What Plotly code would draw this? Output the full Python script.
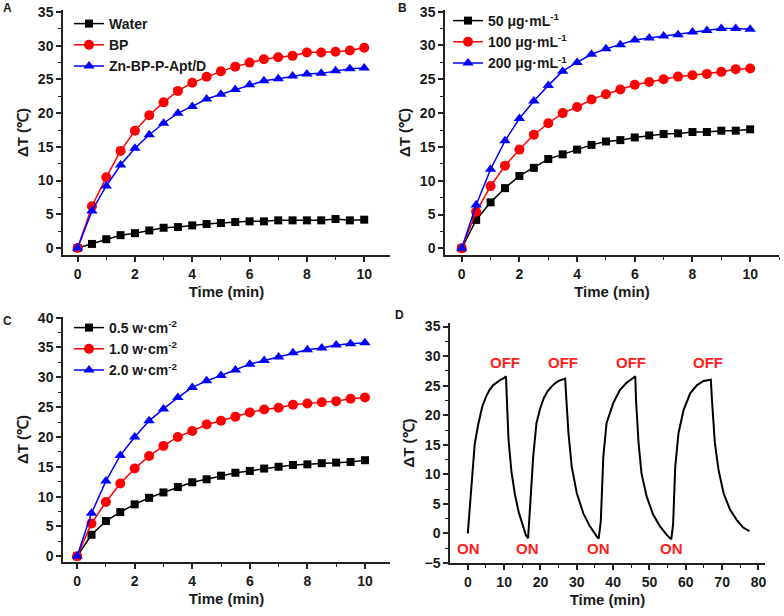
import plotly.graph_objects as go

# ---- data ----
time_a = [0, 0.5, 1, 1.5, 2, 2.5, 3, 3.5, 4, 4.5, 5, 5.5, 6, 6.5, 7, 7.5, 8, 8.5, 9, 9.5, 10]

water = [0, 0.6, 1.3, 1.9, 2.2, 2.6, 3.0, 3.1, 3.35, 3.55, 3.7, 3.85, 3.95, 3.95, 4.1, 4.1, 4.1, 4.1, 4.3, 4.1, 4.2]
bp = [0, 6.2, 10.5, 14.4, 17.4, 19.7, 21.6, 23.3, 24.5, 25.4, 26.2, 26.9, 27.5, 28.0, 28.3, 28.5, 29.0, 29.0, 29.1, 29.3, 29.7]
zn_bp = [0, 5.5, 9.2, 12.3, 14.8, 16.8, 18.5, 20.0, 21.0, 22.1, 22.8, 23.5, 24.2, 24.8, 25.1, 25.5, 25.8, 25.9, 26.3, 26.6, 26.7]

conc_50 = [0, 4.2, 6.8, 8.9, 10.7, 11.9, 13.2, 13.9, 14.6, 15.3, 15.8, 16.0, 16.4, 16.7, 16.9, 17.0, 17.2, 17.2, 17.4, 17.4, 17.6]
conc_100 = [0, 5.4, 9.2, 12.2, 14.6, 16.8, 18.5, 20.0, 20.9, 22.0, 22.8, 23.5, 24.2, 24.6, 25.0, 25.4, 25.6, 25.8, 26.1, 26.5, 26.6]
conc_200 = [0, 6.4, 11.7, 15.9, 19.2, 21.8, 24.1, 26.2, 27.5, 28.7, 29.5, 30.1, 30.8, 31.1, 31.4, 31.6, 32.0, 32.2, 32.5, 32.5, 32.4]

pow_05 = [0, 3.6, 5.9, 7.4, 8.7, 9.8, 10.7, 11.6, 12.4, 12.9, 13.5, 14.0, 14.3, 14.7, 15.0, 15.3, 15.4, 15.6, 15.7, 15.8, 16.1]
pow_10 = [0, 5.5, 9.1, 12.2, 14.7, 16.8, 18.5, 20.0, 21.0, 22.1, 22.7, 23.4, 24.1, 24.6, 24.9, 25.4, 25.6, 25.8, 26.0, 26.4, 26.6]
pow_20 = [0, 7.2, 12.6, 16.9, 20.0, 22.7, 24.7, 26.6, 28.3, 29.4, 30.3, 31.2, 32.2, 32.8, 33.4, 34.1, 34.6, 34.9, 35.4, 35.6, 35.8]

cycle_t = [0, 0.55, 1.0, 1.5, 1.9, 2.85, 4, 5, 6, 7, 8, 9, 10, 10.5,
           10.8, 11.2, 12, 13, 14, 15, 16, 16.6,
           17.1, 17.6, 18.0, 18.9, 20, 21, 22, 23, 24, 25, 26, 26.8,
           27.1, 27.7, 28.6, 30, 31.8, 33.6, 35.5, 36.0,
           36.6, 37.3, 38.2, 40, 41.9, 43.7, 45.5, 46.1,
           46.3, 47.0, 47.8, 49.2, 51.0, 52.9, 54.7, 56.0,
           56.5, 57.1, 58.0, 59.4, 61.2, 63.1, 64.9, 66.9,
           67.2, 68.0, 69.0, 70.4, 72.2, 74.0, 75.8, 77.5]
cycle_v = [0, 4.6, 8.5, 11.9, 15.1, 18.4, 21.5, 23.1, 24.3, 25.1, 25.6, 26.0, 26.3, 26.6,
           22.0, 16.0, 10.5, 6.5, 3.6, 1.5, -0.3, -0.8,
           4.0, 9.6, 13.0, 18.7, 21.3, 23.0, 24.1, 24.8, 25.4, 25.8, 26.1, 26.2,
           23.0, 17.0, 11.3, 6.8, 3.4, 1.2, -0.5, -0.9,
           2.0, 13.0, 18.7, 22.0, 24.3, 25.5, 26.3, 26.6,
           22.6, 15.3, 10.2, 6.3, 3.2, 1.2, -0.2, -1.0,
           1.5, 11.3, 17.0, 20.9, 23.7, 25.1, 25.8, 26.0,
           22.6, 15.3, 10.8, 6.8, 4.0, 2.3, 1.0, 0.4]

off_t = [10.3, 26.1, 45.0, 66.1]
on_t = [0.2, 16.4, 36.1, 56.1]

BLACK = "#000000"
RED = "#ff0000"
BLUE = "#0000ff"
TXT = "#1a1a1a"
FONT = "Liberation Sans, Arial, sans-serif"

fig = go.Figure()


def add(x, y, name, color, symbol, size, ax, legend):
    fig.add_trace(go.Scatter(
        x=x, y=y, name=name, mode="lines+markers",
        line=dict(color=color, width=1.5),
        marker=dict(symbol=symbol, size=size, color=color),
        xaxis="x" + ax, yaxis="y" + ax, legend=legend,
    ))


add(time_a, water, "Water", BLACK, "square", 8, "", "legend")
add(time_a, bp, "BP", RED, "circle", 10, "", "legend")
add(time_a, zn_bp, "Zn-BP-P-Apt/D", BLUE, "triangle-up", 10, "", "legend")

add(time_a, conc_50, "50 μg·mL<sup>-1</sup>", BLACK, "square", 8, "2", "legend2")
add(time_a, conc_100, "100 μg·mL<sup>-1</sup>", RED, "circle", 10, "2", "legend2")
add(time_a, conc_200, "200 μg·mL<sup>-1</sup>", BLUE, "triangle-up", 10, "2", "legend2")

add(time_a, pow_05, "0.5 w·cm<sup>-2</sup>", BLACK, "square", 8, "3", "legend3")
add(time_a, pow_10, "1.0 w·cm<sup>-2</sup>", RED, "circle", 10, "3", "legend3")
add(time_a, pow_20, "2.0 w·cm<sup>-2</sup>", BLUE, "triangle-up", 10, "3", "legend3")

fig.add_trace(go.Scatter(x=cycle_t, y=cycle_v, mode="lines", showlegend=False,
                         line=dict(color=BLACK, width=2), xaxis="x4", yaxis="y4"))

W, H = 784, 616


def px_x(a, b):
    return [a / W, b / W]


def px_y(top, bottom):
    return [1 - bottom / H, 1 - top / H]


def xax(domain, rng, dtick, anchor):
    return dict(domain=domain, range=rng, anchor=anchor, dtick=dtick, tick0=0,
                automargin=False,
                showline=True, linecolor="#222", linewidth=1.5, mirror=False,
                ticks="outside", ticklen=5, tickwidth=1.5, tickcolor="#222",
                minor=dict(dtick=dtick / 2, ticks="outside", ticklen=3, tickcolor="#222", tickwidth=1),
                showgrid=False, zeroline=False,
                tickfont=dict(family=FONT, size=14, color=TXT, weight="bold"),
                title=dict(text="Time (min)", standoff=6,
                           font=dict(family=FONT, size=15, color=TXT, weight="bold")))


def yax(domain, rng, anchor):
    return dict(domain=domain, range=rng, anchor=anchor, dtick=5, tick0=0,
                automargin=False,
                showline=True, linecolor="#222", linewidth=1.5, mirror=False,
                ticks="outside", ticklen=5, tickwidth=1.5, tickcolor="#222",
                minor=dict(dtick=2.5, ticks="outside", ticklen=3, tickcolor="#222", tickwidth=1),
                showgrid=False, zeroline=False,
                tickfont=dict(family=FONT, size=14, color=TXT, weight="bold"),
                title=dict(text="ΔT (℃)", standoff=6,
                           font=dict(family=FONT, size=15, color=TXT, weight="bold")))


def leg(x, y):
    return dict(x=x / W, y=1 - y / H, xanchor="left", yanchor="top",
                bgcolor="rgba(0,0,0,0)", borderwidth=0, tracegroupgap=0,
                font=dict(family=FONT, size=14, color=TXT, weight="bold"))


fig.update_layout(
    width=W, height=H, margin=dict(l=0, r=0, t=0, b=0),
    paper_bgcolor="white", plot_bgcolor="white",
    xaxis=xax(px_x(63, 390), [-0.51, 10.9], 2, "y"),
    yaxis=yax(px_y(10, 255), [-1.04, 35.3], "x"),
    xaxis2=xax(px_x(445, 779), [-0.58, 11.0], 2, "y2"),
    yaxis2=yax(px_y(10, 255), [-0.99, 35.25], "x2"),
    xaxis3=xax(px_x(63, 390), [-0.49, 10.87], 2, "y3"),
    yaxis3=yax(px_y(317, 562), [-0.96, 40.1], "x3"),
    xaxis4=xax(px_x(450, 765), [-4.9, 81.8], 10, "y4"),
    yaxis4=yax(px_y(323, 563), [-5, 35.6], "x4"),
    legend=leg(69, 8),
    legend2=leg(448, 5),
    legend3=leg(69, 312),
)

for t in off_t:
    fig.add_annotation(x=t, y=29.0, xref="x4", yref="y4", text="OFF", showarrow=False,
                       font=dict(family=FONT, size=15, color="#ff2020", weight="bold"))
for t in on_t:
    fig.add_annotation(x=t, y=-2.6, xref="x4", yref="y4", text="ON", showarrow=False,
                       font=dict(family=FONT, size=15, color="#ff2020", weight="bold"))

for lab, x, y in [("A", 8, 8), ("B", 402, 8), ("C", 8, 321), ("D", 399, 315)]:
    fig.add_annotation(x=x / W, y=1 - y / H, xref="paper", yref="paper", text=lab,
                       showarrow=False, xanchor="center", yanchor="middle",
                       font=dict(family=FONT, size=12, color=TXT, weight="bold"))

# drop the browser's default body margin so the figure sits at the page corner
fig.write_html("out.html", config={"displayModeBar": False},
               post_script="document.body.style.margin='0';document.body.style.overflow='hidden';")
